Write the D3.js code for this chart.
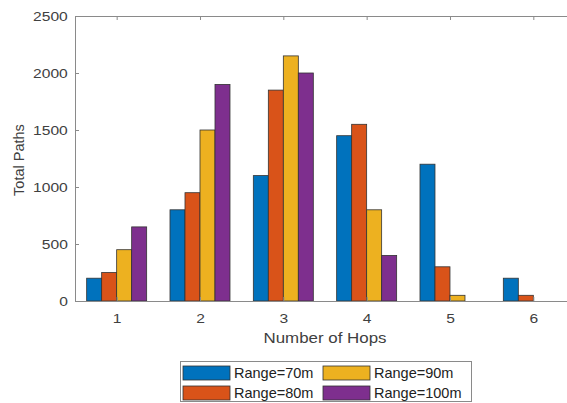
<!DOCTYPE html>
<html>
<head>
<meta charset="utf-8">
<script src="https://cdn.jsdelivr.net/npm/d3@7"></script>
<style>
  html, body { margin: 0; padding: 0; background: #fff; }
  svg { display: block; font-family: "Liberation Sans", Arial, sans-serif; }
</style>
</head>
<body>
<svg id="chart" width="567" height="403"></svg>
<script>
// Hop counts on the x axis
const hops = [1, 2, 3, 4, 5, 6];
// Series names, one per transmission range
const seriesNames = ["Range=70m", "Range=80m", "Range=90m", "Range=100m"];
const seriesColors = ["#0072BD", "#D95319", "#EDB120", "#7E2F8E"];
// Total paths per hop count for each range
const range70 = [200, 800, 1100, 1450, 1200, 200];
const range80 = [250, 950, 1850, 1550, 300, 50];
const range90 = [450, 1500, 2150, 800, 50, 0];
const range100 = [650, 1900, 2000, 400, 0, 0];
const yTicks = [0, 500, 1000, 1500, 2000, 2500];

const seriesValues = [range70, range80, range90, range100];

const svg = d3.select("#chart");
const plotLeft = 75, plotTop = 16, plotBottom = 301;
const plotRight = plotLeft + 6 * 83.33;
const stretch = 1.2; // axis text is set slightly wide

const x = d3.scaleLinear().domain([0.5, 6.5]).range([plotLeft, plotRight]);
const y = d3.scaleLinear().domain([0, 2500]).range([plotBottom, plotTop]);

const groupW = 83.33 * 0.72;
const barW = groupW / 4;

// bars
seriesValues.forEach((vals, si) => {
  svg.append("g").selectAll("rect")
    .data(vals.map((v, i) => ({ hop: hops[i], v })))
    .join("rect")
    .attr("x", d => x(d.hop) - groupW / 2 + si * barW)
    .attr("y", d => y(d.v))
    .attr("width", barW)
    .attr("height", d => y(0) - y(d.v))
    .attr("fill", seriesColors[si])
    .attr("stroke", "#333")
    .attr("stroke-width", 0.8);
});

const axisColor = "#8a8a8a";
const textColor = "#404040";

// bottom axis
const xAxis = d3.axisBottom(x).tickValues(hops).tickSize(-4).tickPadding(13).tickFormat(d3.format("d"));
const gx = svg.append("g").attr("transform", `translate(0,${plotBottom})`).call(xAxis);
// top axis (ticks only)
const gxt = svg.append("g").attr("transform", `translate(0,${plotTop})`)
  .call(d3.axisTop(x).tickValues(hops).tickSize(-4).tickFormat(""));
// left axis
const gy = svg.append("g").attr("transform", `translate(${plotLeft},0)`)
  .call(d3.axisLeft(y).tickValues(yTicks).tickSize(-4).tickPadding(6).tickFormat(d3.format("d")));

[gx, gxt, gy].forEach(g => {
  g.select(".domain").attr("stroke", axisColor).attr("stroke-width", 1);
  g.selectAll(".tick line").attr("stroke", axisColor);
  g.selectAll(".tick text").attr("fill", textColor).style("font-size", "13px")
    .style("font-family", "'Liberation Sans', Arial, sans-serif")
    .attr("transform", `scale(${stretch},1)`);
});
gy.selectAll(".tick text").attr("dy", "0.36em");

// axis titles
svg.append("text").attr("x", (plotLeft + plotRight) / 2).attr("y", 343)
  .attr("text-anchor", "middle").attr("fill", textColor).style("font-size", "15px")
  .attr("textLength", 123).attr("lengthAdjust", "spacingAndGlyphs")
  .text("Number of Hops");
svg.append("text").attr("transform", `translate(24,${160}) rotate(-90)`)
  .attr("text-anchor", "middle").attr("fill", textColor).style("font-size", "14.5px")
  .text("Total Paths");

// legend
const lg = svg.append("g");
lg.append("rect").attr("x", 180.5).attr("y", 361.5).attr("width", 291).attr("height", 40)
  .attr("fill", "#fff").attr("stroke", axisColor).attr("stroke-width", 1);
const legendPos = [
  { sx: 183, sy: 366 }, { sx: 183, sy: 386 },
  { sx: 323, sy: 366 }, { sx: 323, sy: 386 }
];
seriesNames.forEach((name, i) => {
  const p = legendPos[i];
  lg.append("rect").attr("x", p.sx).attr("y", p.sy).attr("width", 47).attr("height", 14)
    .attr("fill", seriesColors[i]).attr("stroke", "#333").attr("stroke-width", 0.8);
  lg.append("text").attr("x", p.sx + 51).attr("y", p.sy + 12)
    .attr("fill", "#222").style("font-size", "14.5px").text(name);
});
</script>
</body>
</html>
